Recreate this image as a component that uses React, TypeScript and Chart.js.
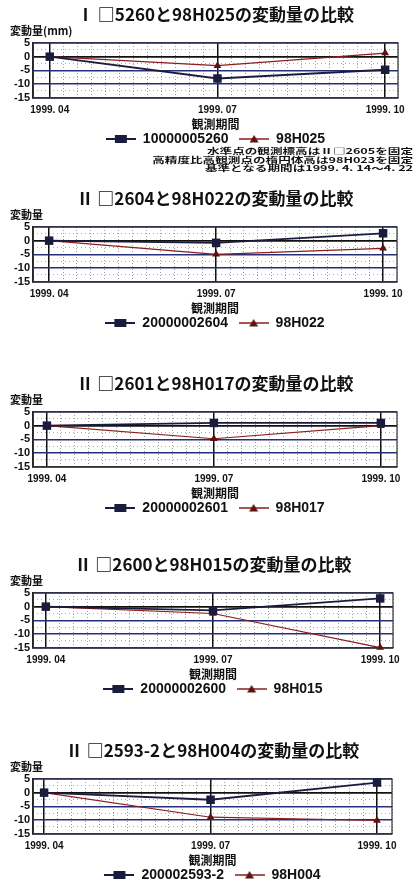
import React, { useEffect, useRef } from 'react';
import { Chart, registerables } from 'chart.js';

Chart.register(...registerables);

// ---- data ----
const categories = ['1999. 04', '1999. 07', '1999. 10'];
const monthOffsets = [0, 3, 6];

const titles = [
  'Ⅰ □5260と98H025の変動量の比較',
  'Ⅱ □2604と98H022の変動量の比較',
  'Ⅱ □2601と98H017の変動量の比較',
  'Ⅱ □2600と98H015の変動量の比較',
  'Ⅱ □2593-2と98H004の変動量の比較',
];
const yAxisLabels = ['変動量(mm)', '変動量', '変動量', '変動量', '変動量'];
const xAxisLabel = '観測期間';

const seriesANames = ['10000005260', '20000002604', '20000002601', '20000002600', '200002593-2'];
const seriesBNames = ['98H025', '98H022', '98H017', '98H015', '98H004'];

const chart1A = [0, -8, -4.8];
const chart1B = [0, -3.3, 1.3];
const chart2A = [0, -0.8, 2.7];
const chart2B = [0, -5, -2.8];
const chart3A = [0, 1, 1];
const chart3B = [0, -4.8, 0];
const chart4A = [0, -1.4, 3];
const chart4B = [0, -2.5, -15];
const chart5A = [0, -2.6, 3.7];
const chart5B = [0, -9, -10.2];

const seriesA = [chart1A, chart2A, chart3A, chart4A, chart5A];
const seriesB = [chart1B, chart2B, chart3B, chart4B, chart5B];

const yMin = -15;
const yMax = 5;

const noteLines = [
  '水準点の観測標高はⅡ□2605を固定',
  '高精度比高観測点の楕円体高は98H023を固定',
  '基準となる期間は1999. 4. 14〜4. 22',
];

// ---- layout (not data) ----
const panels = [
  { top: 6, xMin: -0.3, xMax: 6.23, padRight: 16 },
  { top: 190, xMin: -0.29, xMax: 6.25, padRight: 17 },
  { top: 375, xMin: -0.25, xMax: 6.29, padRight: 17 },
  { top: 556, xMin: -0.23, xMax: 6.23, padRight: 21 },
  { top: 742, xMin: -0.2, xMax: 6.27, padRight: 22 },
];

const CJK = "'Noto Sans CJK JP', sans-serif";
const LAT = "'Liberation Sans', Arial, sans-serif";
const COLOR_A = '#1b1b3e';
const COLOR_B = '#8a1c1c';
const FILL_B = '#5a1212';

function legendIcon(kind: 'rect' | 'triangle') {
  const c = document.createElement('canvas');
  c.width = 30;
  c.height = 12;
  const g = c.getContext('2d')!;
  g.strokeStyle = kind === 'rect' ? COLOR_A : COLOR_B;
  g.lineWidth = kind === 'rect' ? 2 : 1.5;
  g.beginPath();
  g.moveTo(0, 6);
  g.lineTo(30, 6);
  g.stroke();
  if (kind === 'rect') {
    g.fillStyle = COLOR_A;
    g.fillRect(9, 2, 12, 8);
  } else {
    g.fillStyle = FILL_B;
    g.beginPath();
    g.moveTo(15, 2);
    g.lineTo(19.5, 9.5);
    g.lineTo(10.5, 9.5);
    g.closePath();
    g.fill();
  }
  return c;
}

const framePlugin = {
  id: 'frame',
  beforeDatasetsDraw(chart: any) {
    const { ctx, chartArea } = chart;
    const { left, top, right, bottom } = chartArea;
    ctx.save();
    ctx.strokeStyle = '#333';
    ctx.lineWidth = 1.2;
    ctx.strokeRect(left, top, right - left, bottom - top);
    ctx.restore();
  },
};

const isMultipleOf = (v: number, step: number) => Math.abs(v / step - Math.round(v / step)) < 1e-6;

function Panel({ index }: { index: number }) {
  const ref = useRef<HTMLCanvasElement | null>(null);
  const p = panels[index];
  useEffect(() => {
    if (!ref.current) return;
    const icons = [legendIcon('rect'), legendIcon('triangle')];
    const chart = new Chart(ref.current, {
      type: 'line',
      data: {
        datasets: [
          {
            label: seriesANames[index] + '  \u2009',
            data: seriesA[index].map((v, i) => ({ x: monthOffsets[i], y: v })),
            borderColor: COLOR_A,
            backgroundColor: COLOR_A,
            borderWidth: 1.8,
            pointStyle: 'rect',
            pointRadius: 6,
            pointBorderWidth: 0,
            clip: false as any,
          },
          {
            label: seriesBNames[index],
            data: seriesB[index].map((v, i) => ({ x: monthOffsets[i], y: v })),
            borderColor: COLOR_B,
            backgroundColor: FILL_B,
            borderWidth: 1.2,
            pointStyle: 'triangle',
            pointRadius: 4.5,
            pointBorderWidth: 0,
            clip: false as any,
          },
        ],
      },
      options: {
        responsive: false,
        animation: false,
        layout: { padding: { left: 10, right: p.padRight, top: 0, bottom: 0 } },
        plugins: {
          title: {
            display: true,
            text: titles[index],
            fullSize: false,
            color: '#111',
            font: { family: CJK, size: 17, weight: 'bold', lineHeight: 1.0 },
            padding: { top: 0, bottom: 0 },
          },
          subtitle: {
            display: true,
            text: yAxisLabels[index],
            align: 'start',
            color: '#111',
            font: { family: CJK, size: 11, weight: 'bold', lineHeight: 1.2 },
            padding: { top: 1, bottom: 5.8 },
          },
          legend: {
            display: true,
            position: 'bottom',
            fullSize: false,
            labels: {
              usePointStyle: true,
              pointStyleWidth: 30,
              padding: 0,
              color: '#111',
              font: { family: LAT, size: 14, weight: 'bold' },
              generateLabels: (c: any) =>
                (Chart.defaults.plugins.legend.labels as any)
                  .generateLabels(c)
                  .map((l: any, i: number) => ({ ...l, pointStyle: icons[i] })),
            },
          },
          tooltip: { enabled: false },
        },
        scales: {
          x: {
            type: 'linear',
            min: p.xMin,
            max: p.xMax,
            position: 'bottom',
            afterBuildTicks: (s: any) => {
              s.ticks = monthOffsets.map((v) => ({ value: v }));
            },
            ticks: {
              callback: (v: any) => {
                const k = monthOffsets.indexOf(Number(v));
                return k >= 0 ? categories[k] : '';
              },
              autoSkip: false,
              maxRotation: 0,
              padding: 7,
              color: '#111',
              font: { family: LAT, size: 10, weight: 'bold' },
            },
            grid: { color: '#111', lineWidth: 1.5, drawTicks: false },
            border: { display: true, color: '#111', width: 1.6 },
            title: {
              display: true,
              text: xAxisLabel,
              color: '#111',
              font: { family: CJK, size: 12, weight: 'bold' },
              padding: { top: -6, bottom: 0 },
            },
          },
          x2: {
            type: 'linear',
            min: p.xMin,
            max: p.xMax,
            position: 'top',
            ticks: { display: false, stepSize: 0.25 },
            grid: {
              color: (c: any) =>
                c.tick && monthOffsets.includes(c.tick.value) ? 'rgba(0,0,0,0)' : '#a0a0a0',
              lineWidth: 1,
              drawTicks: false,
              z: -2,
            },
            border: { display: false, dash: [1, 2] },
            afterFit: (s: any) => {
              s.height = 0;
            },
          },
          y: {
            type: 'linear',
            min: yMin,
            max: yMax,
            position: 'left',
            ticks: {
              stepSize: 5,
              autoSkip: false,
              padding: 3,
              color: '#111',
              font: { family: LAT, size: 11, weight: 'bold' },
            },
            grid: {
              color: (c: any) => (c.tick && c.tick.value === 0 ? '#111' : '#26307a'),
              lineWidth: (c: any) => (c.tick && c.tick.value === 0 ? 1.7 : 1.4),
              drawTicks: false,
            },
            border: { display: true, color: '#111', width: 1.8 },
            afterFit: (s: any) => {
              s.width = 23;
            },
          },
          y2: {
            type: 'linear',
            min: yMin,
            max: yMax,
            position: 'right',
            ticks: { display: false, stepSize: 2.5, autoSkip: false },
            grid: {
              color: (c: any) =>
                c.tick && isMultipleOf(c.tick.value, 5) ? 'rgba(0,0,0,0)' : '#acacac',
              lineWidth: 1,
              drawTicks: false,
              z: -2,
            },
            border: { display: false, dash: [1, 3] },
            afterFit: (s: any) => {
              s.width = 0;
            },
          },
        },
      } as any,
      plugins: [framePlugin],
    });
    return () => chart.destroy();
  }, [index]);
  return (
    <canvas
      ref={ref}
      width={414}
      height={150}
      style={{ position: 'absolute', left: 0, top: p.top, display: 'block' }}
    />
  );
}

export default function App() {
  return (
    <div
      style={{
        position: 'absolute',
        left: 0,
        top: 0,
        width: 414,
        height: 880,
        overflow: 'hidden',
        background: '#fff',
      }}
    >
      {panels.map((_, i) => (
        <Panel key={i} index={i} />
      ))}
      <div
        style={{
          position: 'absolute',
          right: 1,
          top: 147,
          textAlign: 'right',
          fontFamily: CJK,
          fontWeight: 'bold',
          fontSize: 12.6,
          lineHeight: '13px',
          color: '#111',
          whiteSpace: 'nowrap',
          transform: 'scaleY(0.62)',
          transformOrigin: 'top right',
          zIndex: 2,
        }}
      >
        {noteLines.map((t, i) => (
          <div key={i}>{t}</div>
        ))}
      </div>
    </div>
  );
}
